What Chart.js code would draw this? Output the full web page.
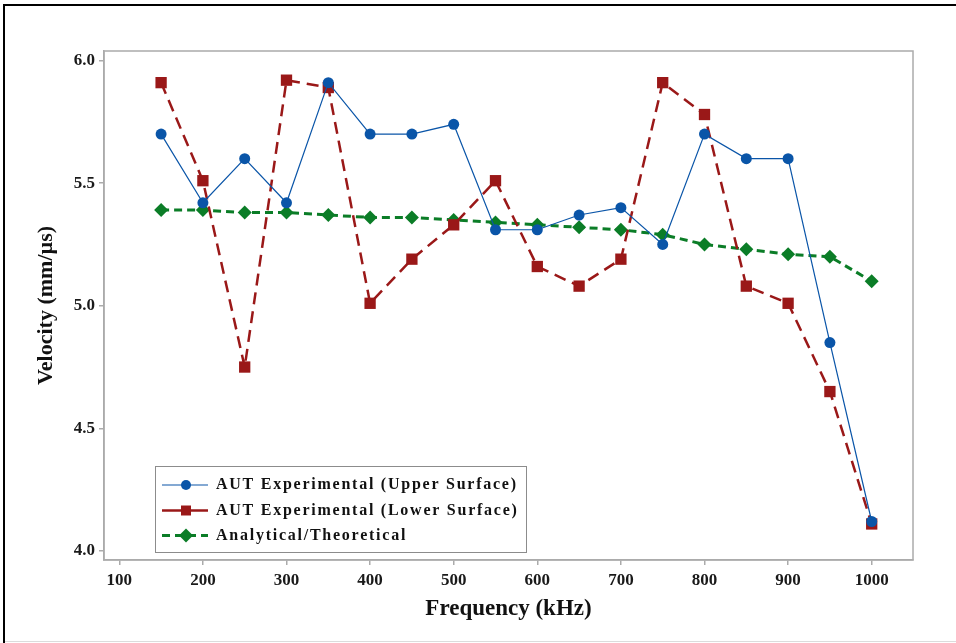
<!DOCTYPE html>
<html>
<head>
<meta charset="utf-8">
<title>Velocity vs Frequency</title>
<script src="https://cdn.jsdelivr.net/npm/chart.js@4/dist/chart.umd.min.js"></script>
<style>
  html, body { margin: 0; padding: 0; background: #fff; }
  #wrap { width: 956px; height: 643px; position: relative; }
</style>
</head>
<body>
<div id="wrap"><canvas id="velocityChart"></canvas></div>
<script>
// Frequency (kHz) for every measurement
const frequencies = [150, 200, 250, 300, 350, 400, 450, 500, 550, 600, 650, 700, 750, 800, 850, 900, 950, 1000];
// Velocity (mm/us) per series
const upperSurface = [5.70, 5.42, 5.60, 5.42, 5.91, 5.70, 5.70, 5.74, 5.31, 5.31, 5.37, 5.40, 5.25, 5.70, 5.60, 5.60, 4.85, 4.12];
const lowerSurface = [5.91, 5.51, 4.75, 5.92, 5.89, 5.01, 5.19, 5.33, 5.51, 5.16, 5.08, 5.19, 5.91, 5.78, 5.08, 5.01, 4.65, 4.11];
const theoretical = [5.39, 5.39, 5.38, 5.38, 5.37, 5.36, 5.36, 5.35, 5.34, 5.33, 5.32, 5.31, 5.29, 5.25, 5.23, 5.21, 5.20, 5.10];
const seriesLabels = ['AUT Experimental (Upper Surface)', 'AUT Experimental (Lower Surface)', 'Analytical/Theoretical'];
const xTickValues = [100, 200, 300, 400, 500, 600, 700, 800, 900, 1000];
const yTickValues = [4.0, 4.5, 5.0, 5.5, 6.0];

const BLUE = '#0a55a8';
const RED = '#9a1818';
const GREEN = '#0b7d27';
const SERIF = '"Liberation Serif", "Times New Roman", serif';

const toPoints = (vals) => frequencies.map((f, i) => ({ x: f, y: vals[i] }));

// White page, black frame on the top/left like the original figure
const framePlugin = {
    id: 'frame',
    beforeDraw(chart) {
        const ctx = chart.ctx;
        ctx.save();
        ctx.fillStyle = '#fff';
        ctx.fillRect(0, 0, chart.width, chart.height);
        ctx.fillStyle = '#000';
        ctx.fillRect(3, 4, chart.width - 3, 2);
        ctx.fillRect(3, 4, 2, chart.height - 4);
        ctx.fillStyle = '#dcdcdc';
        ctx.fillRect(5, chart.height - 2, chart.width - 5, 1);
        ctx.restore();
    },
    beforeDatasetsDraw(chart) {
        const a = chart.chartArea;
        const ctx = chart.ctx;
        ctx.save();
        ctx.strokeStyle = '#ababab';
        ctx.lineWidth = 1.5;
        ctx.strokeRect(a.left, a.top, a.right - a.left, a.bottom - a.top);
        ctx.restore();
    }
};

// Legend box inside the plot, line + marker samples
const legendBoxPlugin = {
    id: 'legendBox',
    afterDatasetsDraw(chart) {
        const ctx = chart.ctx;
        const rows = [485, 510.5, 535.5];
        ctx.save();
        ctx.fillStyle = '#fff';
        ctx.fillRect(155, 466, 371, 86);
        ctx.strokeStyle = '#8c8c8c';
        ctx.lineWidth = 1;
        ctx.strokeRect(155.5, 466.5, 371, 86);

        chart.data.datasets.forEach((ds, i) => {
            const y = rows[i];
            ctx.strokeStyle = ds.borderColor;
            ctx.lineWidth = ds.borderWidth;
            ctx.setLineDash(i === 2 ? ds.borderDash : []);
            ctx.beginPath();
            ctx.moveTo(162, y);
            ctx.lineTo(208, y);
            ctx.stroke();
            ctx.setLineDash([]);

            ctx.fillStyle = ds.pointBackgroundColor;
            ctx.beginPath();
            if (ds.pointStyle === 'circle') {
                ctx.arc(186, y, 5, 0, Math.PI * 2);
            } else if (ds.pointStyle === 'rect') {
                ctx.rect(181, y - 5, 10, 10);
            } else {
                ctx.moveTo(186, y - 7);
                ctx.lineTo(193, y);
                ctx.lineTo(186, y + 7);
                ctx.lineTo(179, y);
                ctx.closePath();
            }
            ctx.fill();

            ctx.fillStyle = '#111';
            ctx.font = 'bold 16px ' + SERIF;
            ctx.letterSpacing = '1.75px';
            ctx.textBaseline = 'middle';
            ctx.fillText(ds.label, 216, y);
        });
        ctx.restore();
    }
};

new Chart(document.getElementById('velocityChart'), {
    type: 'line',
    data: {
        datasets: [{
            label: seriesLabels[0],
            data: toPoints(upperSurface),
            borderColor: BLUE,
            backgroundColor: BLUE,
            pointBackgroundColor: BLUE,
            pointBorderWidth: 0,
            borderWidth: 1.2,
            pointStyle: 'circle',
            pointRadius: 5.5,
            tension: 0
        }, {
            label: seriesLabels[1],
            data: toPoints(lowerSurface),
            borderColor: RED,
            backgroundColor: RED,
            pointBackgroundColor: RED,
            pointBorderWidth: 0,
            borderWidth: 2.5,
            borderDash: [12, 7],
            pointStyle: 'rect',
            pointRadius: 8,
            tension: 0
        }, {
            label: seriesLabels[2],
            data: toPoints(theoretical),
            borderColor: GREEN,
            backgroundColor: GREEN,
            pointBackgroundColor: GREEN,
            pointBorderWidth: 0,
            borderWidth: 3,
            borderDash: [8, 5],
            pointStyle: 'rectRot',
            pointRadius: 7,
            tension: 0
        }]
    },
    options: {
        responsive: true,
        maintainAspectRatio: false,
        animation: false,
        layout: { padding: { top: 51, right: 43, left: 0, bottom: 0 } },
        scales: {
            x: {
                type: 'linear',
                min: 81.7,
                max: 1049.4,
                afterBuildTicks: (scale) => { scale.ticks = xTickValues.map(v => ({ value: v })); },
                afterFit: (scale) => { scale.height = 83; },
                grid: { display: true, drawOnChartArea: false, tickLength: 5, color: '#ababab', lineWidth: 1.5 },
                border: { display: true, color: '#ababab', width: 1.5 },
                ticks: {
                    padding: 5,
                    color: '#1a1a1a',
                    font: { family: SERIF, size: 17, weight: 'bold' },
                    maxRotation: 0,
                    callback: (v) => String(v)
                },
                title: {
                    display: true,
                    text: 'Frequency (kHz)',
                    color: '#111',
                    font: { family: SERIF, size: 23, weight: 'bold' },
                    padding: { top: 0, bottom: 20 }
                }
            },
            y: {
                type: 'linear',
                min: 3.963,
                max: 6.039,
                afterBuildTicks: (scale) => { scale.ticks = yTickValues.map(v => ({ value: v })); },
                afterFit: (scale) => { scale.width = 104; },
                grid: { display: true, drawOnChartArea: false, tickLength: 5, color: '#ababab', lineWidth: 1.5 },
                border: { display: true, color: '#ababab', width: 1.5 },
                ticks: {
                    padding: 4,
                    color: '#1a1a1a',
                    font: { family: SERIF, size: 17, weight: 'bold' },
                    callback: (v) => Number(v).toFixed(1)
                },
                title: {
                    display: true,
                    text: 'Velocity (mm/µs)',
                    color: '#111',
                    font: { family: SERIF, size: 22, weight: 'bold' },
                    padding: { top: 33, bottom: 0 }
                }
            }
        },
        plugins: {
            legend: { display: false },
            tooltip: { enabled: false }
        }
    },
    plugins: [framePlugin, legendBoxPlugin]
});
</script>
</body>
</html>
